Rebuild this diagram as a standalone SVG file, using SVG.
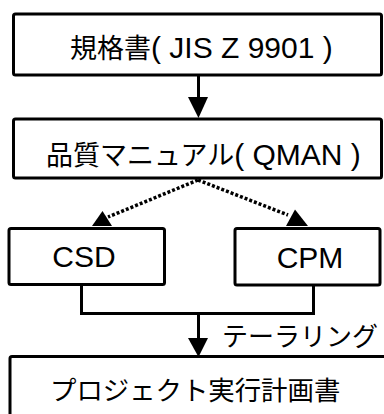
<svg xmlns="http://www.w3.org/2000/svg" width="384" height="414" viewBox="0 0 384 414">
<style>
.box{fill:#fff;stroke:#000;stroke-width:3}
.line{fill:none;stroke:#000;stroke-width:3}
.dot{fill:none;stroke:#000;stroke-width:3.5;stroke-dasharray:3 2}
.head{fill:#000}
text{font-family:"Liberation Sans","Noto Sans CJK JP",sans-serif;fill:#000}
.j{font-size:27px}
.l{font-size:30px}
</style>
<rect width="384" height="414" fill="#fff"/>
<g id="kikakusho">
<rect class="box" x="13.5" y="14" width="368" height="61" rx="2"/>
<text x="70" y="58"><tspan class="j">規格書</tspan><tspan class="l">( JIS Z 9901 )</tspan></text>
</g>
<g id="qman">
<rect class="box" x="13.5" y="119" width="368" height="59" rx="2"/>
<text x="46" y="165"><tspan class="j">品質マニュアル</tspan><tspan class="l">( QMAN )</tspan></text>
</g>
<g id="csd">
<rect class="box" x="9" y="228.5" width="155.5" height="56" rx="2"/>
<text class="l" x="84" y="267" text-anchor="middle">CSD</text>
</g>
<g id="cpm">
<rect class="box" x="235" y="228.5" width="145" height="56.5" rx="2"/>
<text class="l" x="310" y="268" text-anchor="middle">CPM</text>
</g>
<g id="plan">
<rect class="box" x="10" y="356.5" width="390" height="80" rx="2"/>
<text x="50" y="400" style="font-size:26.4px">プロジェクト実行計画書</text>
</g>
<g id="connectors">
<line class="line" x1="198.5" y1="75" x2="198.5" y2="99"/>
<polygon class="head" points="188,97 208,97 198.5,118"/>
<line class="dot" x1="198" y1="180" x2="108" y2="217"/>
<line class="dot" x1="198" y1="180" x2="288" y2="215"/>
<polygon class="head" points="102.5,211 92,226 112,226"/>
<polygon class="head" points="295,209.5 286,226 308,226"/>
<polyline class="line" points="81.5,284.5 81.5,313.5 313.5,313.5 313.5,285"/>
<line class="line" x1="198.5" y1="313.5" x2="198.5" y2="340"/>
<polygon class="head" points="188,338 208,338 198.5,357"/>
<text x="222" y="346" style="font-size:26px">テーラリング</text>
</g>
</svg>
